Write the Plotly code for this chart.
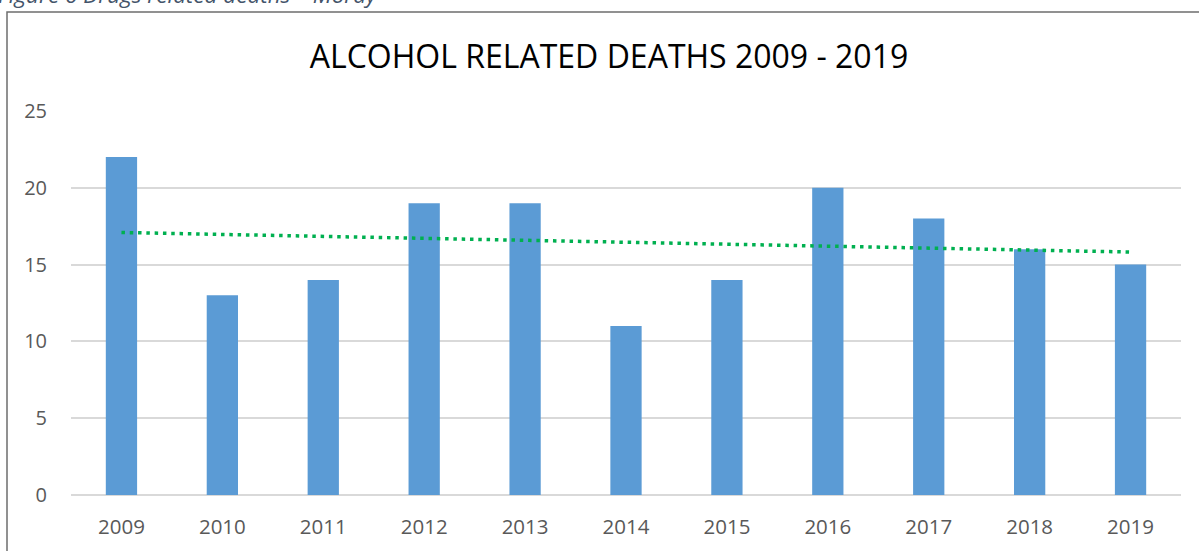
import numpy as np
import plotly.graph_objects as go

years = ["2009", "2010", "2011", "2012", "2013", "2014", "2015", "2016", "2017", "2018", "2019"]
deaths = [22, 13, 14, 19, 19, 11, 14, 20, 18, 16, 15]
y_ticks = [0, 5, 10, 15, 20, 25]
title_text = "ALCOHOL RELATED DEATHS 2009 - 2019"
caption_text = "Figure 6 Drugs related deaths \u2013 Moray"

# linear trendline (least squares fit of the series)
xi = np.arange(len(deaths))
slope, intercept = np.polyfit(xi, deaths, 1)
trend = slope * xi + intercept

W, H = 1199, 551
L, R, T, B = 71, 18, 111, 56
pw, ph = W - L - R, H - T - B

fig = go.Figure()
fig.add_trace(go.Bar(x=years, y=deaths, marker=dict(color="#5B9BD5", line=dict(width=0)),
                     showlegend=False))
fig.add_trace(go.Scatter(x=years, y=trend, mode="lines",
                         line=dict(color="#00B050", width=3.5, dash="3.5px,4.8px"),
                         showlegend=False, hoverinfo="skip"))

fig.update_layout(
    width=W, height=H,
    margin=dict(l=L, r=R, t=T, b=B, autoexpand=False),
    paper_bgcolor="white", plot_bgcolor="white",
    bargap=0.69,
    font=dict(family="Open Sans", color="#595959", size=20),
    title=dict(text=title_text, xref="container", x=609 / W, xanchor="center",
               y=1 - 57 / H, yanchor="middle",
               font=dict(family="Open Sans", size=32, color="#000000")),
)
fig.update_xaxes(showgrid=False, showline=False, zeroline=False, ticks="", automargin=False,
                 ticklabelstandoff=17, tickfont=dict(size=20.5, color="#595959"))
fig.update_yaxes(range=[0, 25], tickvals=y_ticks, showgrid=True, gridcolor="#D9D9D9", gridwidth=1.5,
                 zeroline=True, zerolinecolor="#D9D9D9", zerolinewidth=1.5, showline=False,
                 automargin=False,
                 ticks="", ticklabelstandoff=23, tickfont=dict(size=20, color="#595959"))

# chart border box (extends past the right and bottom edges)
fig.add_shape(type="rect", xref="paper", yref="paper",
              x0=(7 - L) / pw, x1=1.1, y0=-0.5, y1=1 + (T - 12) / ph,
              line=dict(color="#6E6E6E", width=1.5), fillcolor="rgba(0,0,0,0)", layer="above")

# caption above chart (partially cut off at the top)
fig.add_annotation(text="<i>" + caption_text + "</i>", xref="paper", yref="paper",
                   x=(-4 - L) / pw, y=1 + (T - 12) / ph, xanchor="left", yanchor="bottom",
                   showarrow=False, font=dict(family="Open Sans", size=22.5, color="#44546A"))

fig.write_html("out.html", config={"displayModeBar": False},
               post_script="document.body.style.margin='0';document.body.style.padding='0';")
